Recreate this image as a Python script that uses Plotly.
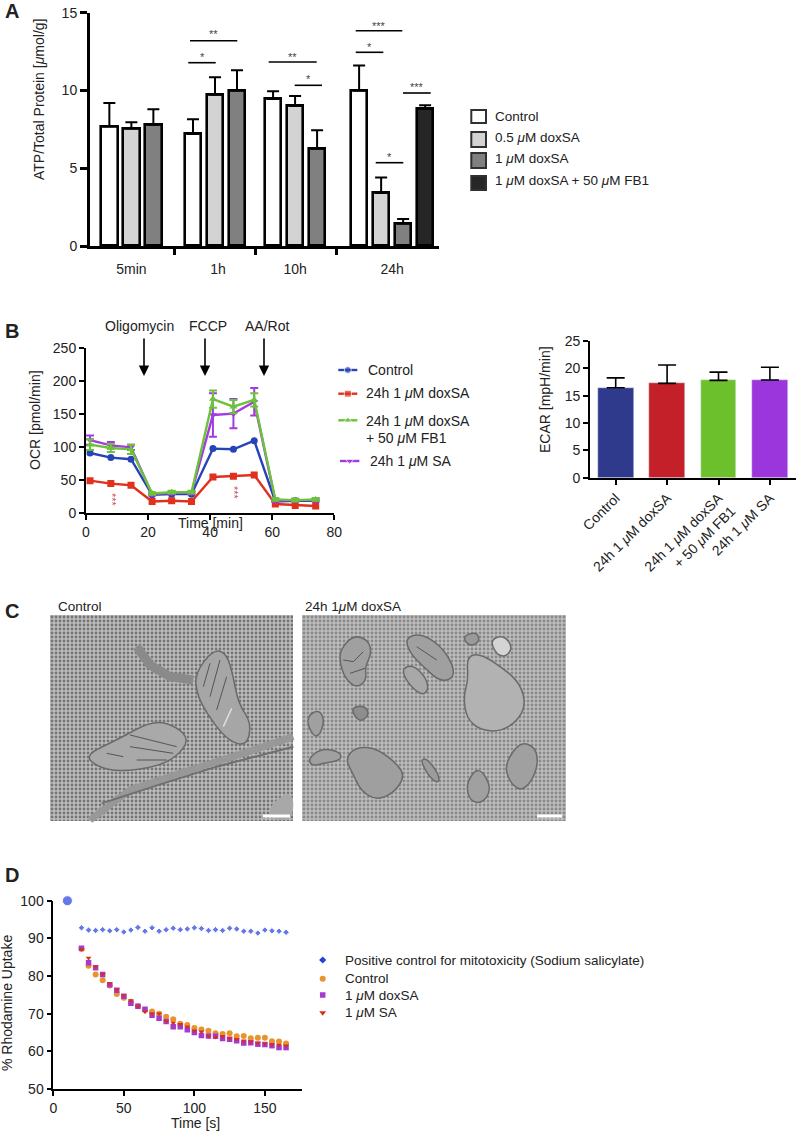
import plotly.graph_objects as go

W, H = 797, 1133
FONT = "Liberation Sans"
INK = "#222222"
MU = "<i>μ</i>"

# ---------- Panel A ----------
groups_a = ["5min", "1h", "10h", "24h"]
ctrl_a = [7.7, 7.2, 9.45, 10.0]
ctrl_a_err = [1.5, 0.95, 0.5, 1.6]
dox05_a = [7.55, 9.73, 9.0, 3.4]
dox05_a_err = [0.4, 1.12, 0.65, 1.0]
dox1_a = [7.8, 10.0, 6.25, 1.45]
dox1_a_err = [1.0, 1.3, 1.2, 0.28]
fb1_a = [8.83]
fb1_a_err = [0.22]

# ---------- Panel B ----------
time_b = [1.3, 8, 14.5, 21.3, 27.6, 34, 40.9, 47.5, 54.2, 61, 67.4, 74]
ocr_ctrl = [91.4, 84.4, 82, 28, 29, 29, 98, 97, 110, 18, 19, 19]
ocr_dox = [49.5, 45, 42.5, 18, 19, 18, 55, 56, 58, 14, 12, 11]
ocr_fb1 = [104, 99, 97, 30, 32, 32, 173, 161.5, 172, 21, 20, 21]
ocr_sa = [111, 103, 100, 29, 31, 31, 149, 151, 169, 19, 20, 20]
ocr_fb1_err = [8, 6, 7, 2, 2, 2, 13, 10, 10, 2, 2, 2]
ocr_sa_err = [7, 5, 4, 2, 2, 2, 33, 22, 21, 2, 2, 2]

ecar_labels = ["Control", f"24h 1 {MU}M doxSA", f"24h 1 {MU}M doxSA<br>+ 50 {MU}M FB1", f"24h 1 {MU}M SA"]
ecar_values = [16.46, 17.25, 17.8, 17.87]
ecar_err = [1.8, 3.35, 1.5, 2.33]
ecar_colors = ["#2f3a8c", "#c4202a", "#6cc02c", "#9b36dc"]

# ---------- Panel D ----------
time_d = [20 + 5 * i for i in range(30)]
rho_pos = [92.8, 92.2, 92.1, 92.3, 92.0, 92.3, 91.7, 92.2, 92.9, 91.9, 92.8, 91.9, 92.3, 92.7, 92.3,
           92.5, 92.8, 92.6, 92.1, 92.3, 92.1, 92.7, 92.5, 91.9, 91.9, 91.4, 92.2, 92.0, 91.9, 91.6]
rho_ctrl = [87.2, 82.7, 80.4, 78.9, 77.5, 75.2, 74.2, 73.2, 72, 71, 70.6, 70, 69.2, 68.5, 67.3,
            67, 66.2, 65.8, 65.5, 64.8, 64.6, 64.8, 64, 64.1, 63.5, 63.6, 63.6, 62.7, 62.6, 62.1]
rho_dox = [87.4, 83.5, 82.2, 80.4, 77.7, 76.2, 74.6, 72.8, 72, 71.2, 69.6, 68.8, 67.9, 66.5, 66.5,
           65.7, 65, 64.2, 64.1, 64, 63.4, 63.2, 62.8, 62.2, 62.3, 61.9, 61.8, 61.5, 61, 61]
rho_sa = [87.1, 84.8, 82.5, 80.5, 78, 76.5, 74.8, 73.5, 72, 70.5, 70, 70, 68, 67.5, 67.2,
          66.5, 65.5, 65.2, 64, 63.8, 64, 63.5, 63.2, 62.8, 62.5, 62.2, 62, 61.8, 61.7, 61.5]
start_time_d = 10
start_value_d = 100


def dom_x(a, b):
    return [a / W, b / W]


def dom_y(top, bottom):
    return [1 - bottom / H, 1 - top / H]


def text(x, y, s, size=13.5, xanchor="left", angle=0, color=INK, bold=False):
    return dict(xref="paper", yref="paper", x=x / W, y=1 - y / H, text=f"<b>{s}</b>" if bold else s,
                showarrow=False, xanchor=xanchor, yanchor="middle", textangle=angle,
                font=dict(family=FONT, size=size, color=color))


def hline(x0, x1, y, color="black", width=1.6):
    return dict(type="line", xref="paper", yref="paper", x0=x0 / W, x1=x1 / W, y0=1 - y / H, y1=1 - y / H,
                line=dict(color=color, width=width))


def blob(points, zx, zy, fill, line="#6a6a6a", lw=1.5):
    pts = [(zx + x / 3, zy + y / 3) for x, y in points]
    n = len(pts)
    mid = lambda p, q: ((p[0] + q[0]) / 2, (p[1] + q[1]) / 2)
    start = mid(pts[-1], pts[0])
    conv = lambda p: f"{p[0] / W:.5f},{1 - p[1] / H:.5f}"
    d = "M" + conv(start)
    for i in range(n):
        d += " Q" + conv(pts[i]) + " " + conv(mid(pts[i], pts[(i + 1) % n]))
    return dict(type="path", xref="paper", yref="paper", path=d + " Z", fillcolor=fill,
                line=dict(color=line, width=lw))


def stroke(points, zx, zy, color="#555555", width=1.0):
    conv = lambda p: f"{(zx + p[0] / 3) / W:.5f},{1 - (zy + p[1] / 3) / H:.5f}"
    d = "M" + " L".join(conv(p) for p in points)
    return dict(type="path", xref="paper", yref="paper", path=d, line=dict(color=color, width=width))


def box(x0, x1, y0, y1, fill):
    return dict(type="rect", xref="paper", yref="paper", x0=x0 / W, x1=x1 / W, y0=1 - y0 / H, y1=1 - y1 / H,
                fillcolor=fill, line=dict(color="#303030", width=2))


fig = go.Figure()
tickf = dict(family=FONT, size=14, color=INK)

# ---------- Panel A traces ----------
group_start = [0.88, 4.68, 8.32, 12.23]
bar_fills = ["white", "#d3d3d3", "#808080", "#262626"]
series_a = [("Control", ctrl_a, ctrl_a_err), (f"0.5 {MU}M doxSA", dox05_a, dox05_a_err),
            (f"1 {MU}M doxSA", dox1_a, dox1_a_err), (f"1 {MU}M doxSA + 50 {MU}M FB1", fb1_a, fb1_a_err)]
for k, (name, vals, errs) in enumerate(series_a):
    starts = group_start if len(vals) == 4 else group_start[3:]
    fig.add_trace(go.Bar(x=[s + k for s in starts], y=vals, width=0.75, name=name,
                         marker=dict(color=bar_fills[k], line=dict(color="black", width=2.6)),
                         error_y=dict(type="data", symmetric=False, array=errs, arrayminus=[0] * len(errs),
                                      color="black", thickness=2, width=6),
                         xaxis="x", yaxis="y", showlegend=False))
group_centers = [1.88, 5.82, 9.32, 13.73]
sep_ticks = [3.83, 7.51, 11.22]
fig.add_trace(go.Scatter(x=sep_ticks, y=[0] * 3, mode="markers", marker=dict(opacity=0), xaxis="x2", yaxis="y",
                         showlegend=False, hoverinfo="skip"))

# ---------- Panel B traces ----------
series_b = [("Control", ocr_ctrl, None, "#2743b8", "circle"), (f"24h 1 {MU}M doxSA", ocr_dox, None, "#e0301e", "square"),
            (f"24h 1 {MU}M SA", ocr_sa, ocr_sa_err, "#a23be0", "triangle-down"),
            (f"24h 1 {MU}M doxSA + 50 {MU}M FB1", ocr_fb1, ocr_fb1_err, "#6cc23a", "triangle-up")]
for name, vals, errs, c, sym in series_b:
    ey = dict(type="data", array=errs, color=c, thickness=2, width=4) if errs else None
    fig.add_trace(go.Scatter(x=time_b, y=vals, mode="lines+markers", name=name, error_y=ey,
                             line=dict(color=c, width=2.4), marker=dict(color=c, size=7, symbol=sym),
                             xaxis="x3", yaxis="y3", showlegend=False))

# ---------- ECAR ----------
fig.add_trace(go.Bar(x=[0, 1, 2, 3], y=ecar_values, width=0.695, marker=dict(color=ecar_colors),
                     error_y=dict(type="data", symmetric=False, array=ecar_err, arrayminus=[0] * 4,
                                  color="black", thickness=1.6, width=9),
                     xaxis="x4", yaxis="y4", showlegend=False))

# ---------- Panel D ----------
fig.add_trace(go.Scatter(x=[start_time_d] + time_d, y=[start_value_d] + rho_pos, mode="markers", name="Positive control",
                         cliponaxis=False,
                         marker=dict(color="#2440e0", size=[10] + [5] * 30, symbol=["circle"] + ["diamond"] * 30),
                         xaxis="x5", yaxis="y5", showlegend=False))
fig.add_trace(go.Scatter(x=time_d, y=rho_ctrl, mode="markers", name="Control", marker=dict(color="#e8942e", size=6, symbol="circle"),
                         xaxis="x5", yaxis="y5", showlegend=False))
fig.add_trace(go.Scatter(x=time_d, y=rho_dox, mode="markers", name="1 uM doxSA", marker=dict(color="#a63ad0", size=5.5, symbol="square"),
                         xaxis="x5", yaxis="y5", showlegend=False))
fig.add_trace(go.Scatter(x=time_d, y=rho_sa, mode="markers", name="1 uM SA", marker=dict(color="#d6301e", size=5, symbol="triangle-down"),
                         xaxis="x5", yaxis="y5", showlegend=False))

# ---------- Micrograph texture ----------
for xa, ya in (("x6", "y6"), ("x7", "y7")):
    dark = "#2e2e2e" if xa == "x6" else "#555555"
    fig.add_trace(go.Bar(x=[0], y=[1], width=1, hoverinfo="skip", showlegend=False, xaxis=xa, yaxis=ya,
                         marker=dict(color="#b4b4b4", line=dict(width=0),
                                     pattern=dict(shape=".", size=4, solidity=0.4, fgcolor=dark, bgcolor="#bdbdbd"))))


# ---------- Legend keys on a page-sized hidden axis ----------
def key(xs, ys, c, sym, size, mode="lines+markers", lw=2.4):
    fig.add_trace(go.Scatter(x=xs, y=ys, mode=mode, line=dict(color=c, width=lw), hoverinfo="skip",
                             marker=dict(color=c, size=[0, size, 0] if len(xs) == 3 else size, symbol=sym),
                             xaxis="x8", yaxis="y8", showlegend=False))


key([338.3, 347.8, 357.3], [370] * 3, "#2743b8", "circle", 7)
key([338.3, 347.8, 357.3], [393.7] * 3, "#e0301e", "square", 7)
key([338.3, 347.8, 357.3], [420.3] * 3, "#6cc23a", "triangle-up", 7)
key([340, 349.7, 359.4], [461] * 3, "#a23be0", "triangle-down", 7)
key([322.7], [960], "#2440e0", "diamond", 5.5, "markers")
key([322.7], [978.7], "#e8942e", "circle", 6, "markers")
key([322.7], [995], "#a63ad0", "square", 5.5, "markers")
key([322.7], [1012.7], "#d6301e", "triangle-down", 6, "markers")

# ---------- Texts ----------
ann = [
    text(3, 11, "A", 20, bold=True), text(3, 331, "B", 20, bold=True), text(3, 611, "C", 20, bold=True), text(3, 875, "D", 20, bold=True),
    text(39, 100, f"ATP/Total Protein [{MU}mol/g]", 14, "center", -90),
    text(35, 420, "OCR [pmol/min]", 14, "center", -90),
    text(210, 523, "Time [min]", 14, "center"),
    text(545, 400, "ECAR [mpH/min]", 14, "center", -90),
    text(7, 1003, "% Rhodamine Uptake", 14, "center", -90),
    text(195, 1123, "Time [s]", 14, "center"),
    text(139, 326, "Oligomycin", 14, "center"), text(208, 326, "FCCP", 14, "center"), text(267, 326, "AA/Rot", 14, "center"),
    text(492.7, 116, "Control"), text(492.7, 137.7, f"0.5 {MU}M doxSA"), text(492.7, 158.7, f"1 {MU}M doxSA"),
    text(492.7, 180, f"1 {MU}M doxSA + 50 {MU}M FB1"),
    text(365.7, 370, "Control", 14), text(364, 393, f"24h 1 {MU}M doxSA", 14), text(364, 421, f"24h 1 {MU}M doxSA", 14),
    text(364, 438, f"+ 50 {MU}M FB1", 14), text(368.3, 461, f"24h 1 {MU}M SA", 14),
    text(343.3, 960, "Positive control for mitotoxicity (Sodium salicylate)"), text(343.3, 978.7, "Control"),
    text(343.3, 995, f"1 {MU}M doxSA"), text(343.3, 1012.7, f"1 {MU}M SA"),
    text(56, 606, "Control", 13.5), text(303, 606, f"24h 1{MU}M doxSA", 13.5),
    text(112, 500, "***", 11, "center", 90, "#c8505a"), text(234, 493, "***", 11, "center", 90, "#c8505a"),
]
for x in (144, 205, 264):
    ann.append(dict(xref="paper", yref="paper", axref="pixel", ayref="pixel", x=x / W, y=1 - 376 / H, ax=0, ay=-39,
                    text="", showarrow=True, arrowhead=2, arrowsize=1.3, arrowwidth=1.6, arrowcolor="black"))

brackets = [(190, 237.3, 40.7, 32.3, "**"), (188.3, 215.7, 62.7, 55, "*"), (268.7, 316.7, 62, 55, "**"),
            (294.7, 322, 85.3, 77.3, "*"), (355.7, 402.3, 30.7, 24.3, "***"), (355.7, 383.3, 52.3, 44.7, "*"),
            (375.7, 403.3, 162.7, 155, "*"), (403, 430.7, 93, 85, "***")]
shapes = [box(471.3, 486, 110, 123, "white"), box(471.3, 486, 132, 147, "#d3d3d3"),
          box(471.3, 486, 153, 168, "#808080"), box(471.3, 486, 176, 190, "#262626")]
for x0, x1, y, ys, s in brackets:
    shapes.append(hline(x0, x1, y))
    ann.append(text((x0 + x1) / 2, ys + 2, s, 11, "center", color="#444444"))

L = (30, 590)
R = (290, 590)
shapes += [
    stroke([(320, 170), (360, 225), (420, 260), (490, 270)], *L, "#8a8a8a", 9),
    stroke([(180, 690), (300, 600), (480, 540), (640, 490), (790, 440)], *L, "#989898", 7),
    stroke([(215, 640), (400, 580), (560, 530), (790, 470)], *L, "#6f6f6f", 2),
    blob([(720, 690), (720, 640), (790, 600), (790, 690)], *L, "#a8a8a8", "#a8a8a8", 0),
    blob([(495, 250), (550, 178), (590, 190), (610, 260), (625, 340), (665, 400), (650, 470), (590, 450), (530, 370), (500, 310)], *L, "#a6a6a6"),
    blob([(165, 495), (260, 450), (370, 390), (440, 410), (478, 450), (440, 500), (380, 530), (270, 545), (200, 530)], *L, "#a9a9a9"),
    stroke([(540, 220), (520, 290)], *L), stroke([(570, 210), (540, 320)], *L), stroke([(590, 260), (560, 360)], *L),
    stroke([(605, 355), (580, 410)], *L, "#dddddd", 1.5),
    stroke([(230, 490), (280, 500)], *L), stroke([(300, 435), (440, 470)], *L), stroke([(320, 510), (410, 510)], *L),
    stroke([(300, 470), (430, 490)], *L),
]
right_blobs = [
    ([(150, 180), (190, 135), (235, 150), (245, 190), (225, 230), (230, 270), (200, 295), (165, 265), (150, 220)], "#a0a0a0"),
    ([(345, 145), (390, 130), (450, 165), (490, 225), (490, 265), (450, 275), (400, 230), (360, 190)], "#a0a0a0"),
    ([(335, 235), (370, 225), (410, 265), (415, 305), (390, 315), (350, 275)], "#a8a8a8"),
    ([(530, 200), (570, 190), (640, 235), (690, 280), (708, 345), (680, 395), (630, 425), (570, 420), (530, 385), (520, 320), (535, 270)], "#b2b2b2"),
    ([(600, 150), (640, 135), (668, 170), (650, 200), (620, 195)], "#d4d4d4"),
    ([(515, 140), (560, 125), (570, 155), (540, 170)], "#9a9a9a"),
    ([(50, 380), (85, 358), (105, 390), (85, 445), (60, 425)], "#a0a0a0"),
    ([(180, 355), (220, 345), (240, 370), (210, 400)], "#8e8e8e"),
    ([(165, 505), (200, 470), (260, 475), (320, 520), (345, 560), (310, 610), (260, 630), (215, 605), (190, 555)], "#9f9f9f"),
    ([(55, 505), (95, 475), (150, 485), (155, 510), (100, 520), (65, 528)], "#a0a0a0"),
    ([(390, 510), (410, 505), (445, 550), (448, 580), (420, 565)], "#9c9c9c"),
    ([(530, 575), (565, 530), (600, 580), (595, 620), (565, 642), (535, 625)], "#a0a0a0"),
    ([(645, 520), (690, 455), (735, 470), (745, 520), (725, 575), (690, 605), (655, 570)], "#a0a0a0"),
]
shapes += [blob(p, *R, c) for p, c in right_blobs]
shapes += [stroke([(160, 210), (190, 215), (220, 185)], *R), stroke([(180, 250), (225, 235)], *R),
           stroke([(380, 170), (440, 210)], *R)]
shapes += [hline(263, 290, 816, "white", 3), hline(537, 562, 816, "white", 3)]


def hidden(dom, rng=None):
    d = dict(domain=dom, visible=False, fixedrange=True)
    if rng:
        d["range"] = rng
    return d


def axis(dom, rng, vals=None, lw=1.6, tl=5, anchor=None, **kw):
    d = dict(domain=dom, range=rng, showgrid=False, zeroline=False, showline=True, linecolor="black", linewidth=lw,
             ticks="outside", ticklen=tl, tickwidth=lw, tickcolor="black", tickfont=tickf, fixedrange=True,
             anchor=anchor)
    if vals is not None:
        d.update(tickmode="array", tickvals=vals, ticktext=[str(v) for v in vals])
    d.update(kw)
    return d


layout = dict(
    width=W, height=H, margin=dict(l=0, r=0, t=0, b=0, autoexpand=False), autosize=False,
    paper_bgcolor="white", plot_bgcolor="rgba(0,0,0,0)", font=dict(family=FONT, color=INK),
    barmode="overlay", bargap=0, annotations=ann, shapes=shapes,
    xaxis=axis(dom_x(90, 439), [0, 15.86], lw=3, tl=8, anchor="y", tickmode="array", tickvals=group_centers,
               ticktext=groups_a, tickcolor="rgba(0,0,0,0)"),
    xaxis2=dict(domain=dom_x(90, 439), range=[0, 15.86], overlaying="x", anchor="y", showgrid=False, zeroline=False,
                tickmode="array", tickvals=sep_ticks, ticktext=["", "", ""], ticks="outside", ticklen=8, tickwidth=3,
                tickcolor="black", side="bottom", fixedrange=True),
    yaxis=axis(dom_y(12.7, 246), [0, 15], [0, 5, 10, 15], lw=3, tl=7, anchor="x"),
    xaxis3=axis(dom_x(86, 334.3), [0, 80], [0, 20, 40, 60, 80], lw=2, anchor="y3"),
    yaxis3=axis(dom_y(348.3, 513.3), [0, 250], [0, 50, 100, 150, 200, 250], lw=2, anchor="x3"),
    xaxis4=axis(dom_x(590, 795.6), [-0.5, 3.5], lw=1.6, anchor="y4", type="linear", tickmode="array",
                tickvals=[0, 1, 2, 3], ticktext=ecar_labels, tickangle=-45),
    yaxis4=axis(dom_y(341, 477.7), [0, 25], [0, 5, 10, 15, 20, 25], lw=1.6, anchor="x4"),
    xaxis5=axis(dom_x(53.3, 302), [0, 176.3], [0, 50, 100, 150], lw=1.6, anchor="y5"),
    yaxis5=axis(dom_y(900.7, 1089), [50, 100], [50, 60, 70, 80, 90, 100], lw=1.6, anchor="x5"),
    xaxis6=dict(hidden(dom_x(50, 293), [-0.5, 0.5]), anchor="y6"),
    yaxis6=dict(hidden(dom_y(615, 821), [0, 1]), anchor="x6"),
    xaxis7=dict(hidden(dom_x(302, 566), [-0.5, 0.5]), anchor="y7"),
    yaxis7=dict(hidden(dom_y(615, 821), [0, 1]), anchor="x7"),
    xaxis8=dict(hidden([0, 1], [0, W]), anchor="y8"),
    yaxis8=dict(hidden([0, 1], [H, 0]), anchor="x8"),
)
fig.update_layout(**layout)

fig.write_html("out.html", post_script="document.body.style.margin='0';", config=dict(displayModeBar=False))
